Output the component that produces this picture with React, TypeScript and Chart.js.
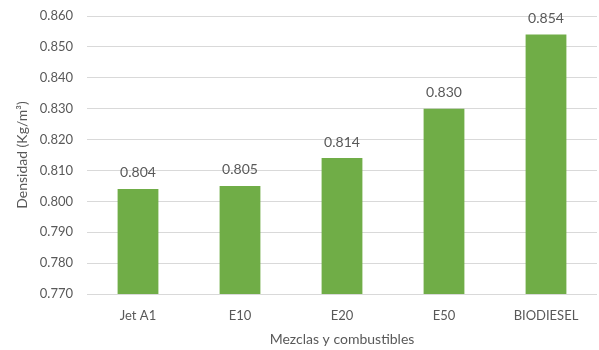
import React, { useEffect, useRef } from "react";
import { Chart, registerables } from "chart.js";

Chart.register(...registerables);

const categories = ["Jet A1", "E10", "E20", "E50", "BIODIESEL"];
const densities = [0.804, 0.805, 0.814, 0.83, 0.854];

const FONT = "Lato, 'Open Sans', sans-serif";
const TEXT = "#595959";
const GREEN = "#70AD47";

const valueLabels = {
  id: "valueLabels",
  afterDatasetsDraw(chart: any) {
    const ctx = chart.ctx;
    const meta = chart.getDatasetMeta(0);
    ctx.save();
    ctx.font = `14px ${FONT}`;
    ctx.fillStyle = TEXT;
    ctx.textAlign = "center";
    ctx.textBaseline = "middle";
    meta.data.forEach((bar: any, i: number) => {
      ctx.fillText(densities[i].toFixed(3), bar.x, bar.y - 16);
    });
    ctx.restore();
  },
};

export default function App() {
  const ref = useRef<HTMLCanvasElement>(null);

  useEffect(() => {
    document.body.style.margin = "0";
    const chart = new Chart(ref.current!, {
      type: "bar",
      data: {
        labels: categories,
        datasets: [
          {
            data: densities,
            backgroundColor: GREEN,
            barPercentage: 0.4,
            categoryPercentage: 1,
          },
        ],
      },
      options: {
        animation: false,
        responsive: false,
        layout: { padding: { top: 16, right: 2, left: 0, bottom: 0 } },
        plugins: { legend: { display: false }, tooltip: { enabled: false } },
        scales: {
          x: {
            grid: { display: false, drawTicks: false },
            border: { display: false },
            ticks: { color: TEXT, font: { family: FONT, size: 13 }, padding: 14 },
            title: {
              display: true,
              text: "Mezclas y combustibles",
              color: TEXT,
              font: { family: FONT, size: 14 },
              padding: { top: 0, bottom: 2 },
            },
            afterFit(scale: any) {
              scale.height = 56;
            },
          },
          y: {
            min: 0.77,
            max: 0.86,
            grid: { color: "#d9d9d9", drawTicks: false },
            border: { display: false },
            ticks: {
              stepSize: 0.01,
              color: TEXT,
              font: { family: FONT, size: 13 },
              padding: 14,
              callback: (v: any) => Number(v).toFixed(3),
            },
            title: {
              display: true,
              text: "Densidad (Kg/m³)",
              color: TEXT,
              font: { family: FONT, size: 14 },
              padding: { top: 14, bottom: 0 },
            },
            afterFit(scale: any) {
              scale.width = 87;
              scale.paddingTop = 0;
              scale.paddingBottom = 0;
            },
          },
        },
      },
      plugins: [valueLabels],
    });
    return () => chart.destroy();
  }, []);

  return <canvas ref={ref} width={599} height={350} />;
}
